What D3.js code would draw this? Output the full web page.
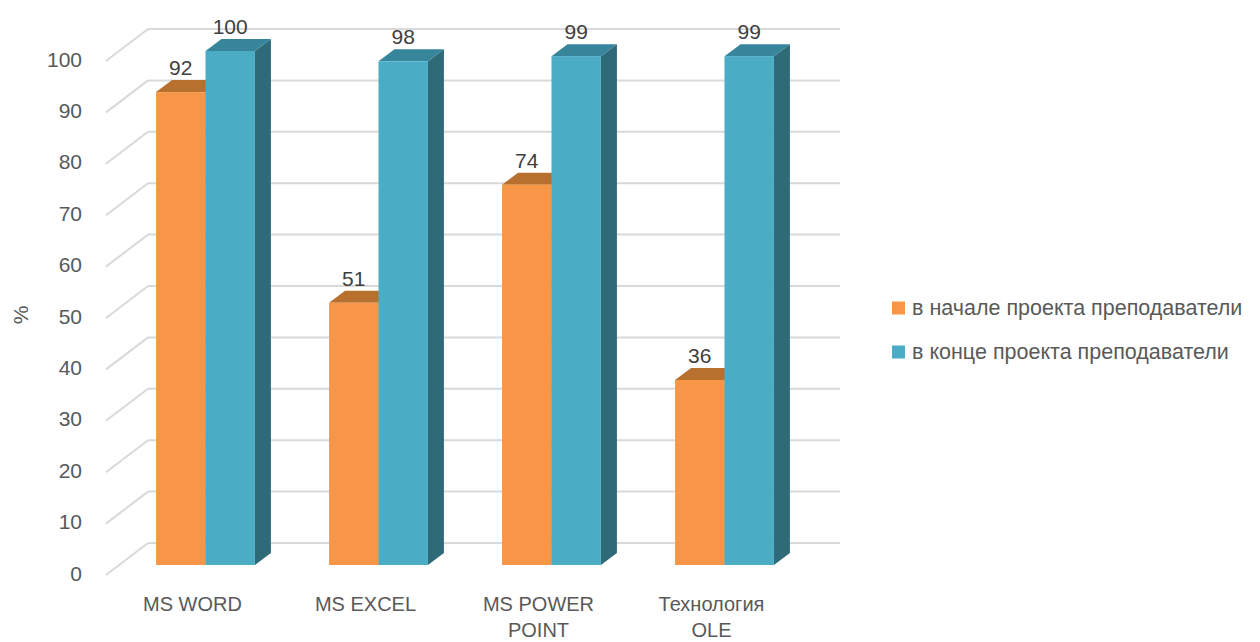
<!DOCTYPE html>
<html>
<head>
<meta charset="utf-8">
<script src="https://cdn.jsdelivr.net/npm/d3@7"></script>
<style>
  body { margin: 0; background: #fff; }
  text { font-family: "Liberation Sans", Arial, sans-serif; }
</style>
</head>
<body>
<div id="chart"></div>
<script>
const categories = [["MS WORD"], ["MS EXCEL"], ["MS POWER", "POINT"], ["Технология", "OLE"]];
const seriesNames = ["в начале проекта преподаватели", "в конце проекта преподаватели"];
const startValues = [92, 51, 74, 36];
const endValues = [100, 98, 99, 99];
const yTicks = [0, 10, 20, 30, 40, 50, 60, 70, 80, 90, 100];

const colors = [
    { front: "#F79646", top: "#B8702F", side: "#B86B2A" },
    { front: "#4BACC6", top: "#37859A", side: "#2F6A79" }
];

const svg = d3.select("#chart").append("svg")
    .attr("width", 1260)
    .attr("height", 642);

// back wall geometry
const backLeft = 148, backRight = 840, backBase = 543;
const depth = { dx: 42, dy: 32 };      // floor depth
const barDepth = { dx: 16, dy: 12 };   // bar depth

const y = d3.scaleLinear().domain([0, 100]).range([0, 514]);

const x0 = d3.scaleBand()
    .domain(d3.range(categories.length))
    .range([backLeft, backRight])
    .padding(0);

const x1 = d3.scaleBand()
    .domain(d3.range(seriesNames.length))
    .range([0, x0.bandwidth()])
    .paddingInner(0)
    .paddingOuter(0.75);

// gridlines: back wall + left wall diagonal
const grid = svg.append("g");
yTicks.forEach(t => {
    const yb = backBase - y(t);
    grid.append("line")
        .attr("x1", backLeft).attr("x2", backRight)
        .attr("y1", yb).attr("y2", yb)
        .attr("stroke", "#D9D9D9").attr("stroke-width", 2);
    grid.append("line")
        .attr("x1", backLeft - depth.dx).attr("y1", yb + depth.dy)
        .attr("x2", backLeft).attr("y2", yb)
        .attr("stroke", "#D9D9D9").attr("stroke-width", 2);
    grid.append("text")
        .attr("x", 82)
        .attr("y", yb + depth.dy - 2)
        .attr("text-anchor", "end")
        .attr("dominant-baseline", "central")
        .attr("font-size", 21)
        .attr("fill", "#595959")
        .text(t);
});

// axis title
svg.append("text")
    .attr("transform", "translate(20,315) rotate(-90)")
    .attr("text-anchor", "middle")
    .attr("dominant-baseline", "central")
    .attr("font-size", 21)
    .attr("fill", "#595959")
    .text("%");

// bars
const frontOff = { dx: -(depth.dx + barDepth.dx) / 2, dy: (depth.dy + barDepth.dy) / 2 };
const bars = svg.append("g");
const labels = svg.append("g");
const seriesValues = [startValues, endValues];

categories.forEach((cat, i) => {
    seriesValues.forEach((vals, s) => {
        const v = vals[i];
        const xl = x0(i) + x1(s) + frontOff.dx;
        const xr = xl + x1.bandwidth();
        const yb = backBase + frontOff.dy;
        const yt = yb - y(v);
        const c = colors[s];
        const g = bars.append("g");
        g.append("path")
            .attr("d", `M${xr},${yb}L${xr + barDepth.dx},${yb - barDepth.dy}L${xr + barDepth.dx},${yt - barDepth.dy}L${xr},${yt}Z`)
            .attr("fill", c.side);
        g.append("path")
            .attr("d", `M${xl},${yt}L${xl + barDepth.dx},${yt - barDepth.dy}L${xr + barDepth.dx},${yt - barDepth.dy}L${xr},${yt}Z`)
            .attr("fill", c.top);
        g.append("rect")
            .attr("x", xl).attr("y", yt)
            .attr("width", xr - xl).attr("height", yb - yt)
            .attr("fill", c.front);

        labels.append("text")
            .attr("x", (xl + xr) / 2)
            .attr("y", yt - barDepth.dy - 5)
            .attr("text-anchor", "middle")
            .attr("font-size", 21)
            .attr("fill", "#404040")
            .text(v);
    });

    // category label
    const cx = x0(i) + x0.bandwidth() / 2 - depth.dx;
    const t = svg.append("text")
        .attr("text-anchor", "middle")
        .attr("font-size", 20)
        .attr("fill", "#595959");
    cat.forEach((line, k) => {
        t.append("tspan")
            .attr("x", cx)
            .attr("y", 611 + k * 26)
            .text(line);
    });
});

// legend
const legend = svg.append("g").attr("transform", "translate(892,308)");
seriesNames.forEach((name, s) => {
    const row = legend.append("g").attr("transform", `translate(0,${s * 44})`);
    row.append("rect")
        .attr("x", 0).attr("y", -6.5)
        .attr("width", 13).attr("height", 13)
        .attr("fill", colors[s].front);
    row.append("text")
        .attr("x", 20).attr("y", 0)
        .attr("dominant-baseline", "central")
        .attr("font-size", 21.5)
        .attr("fill", "#595959")
        .text(name);
});
</script>
</body>
</html>
